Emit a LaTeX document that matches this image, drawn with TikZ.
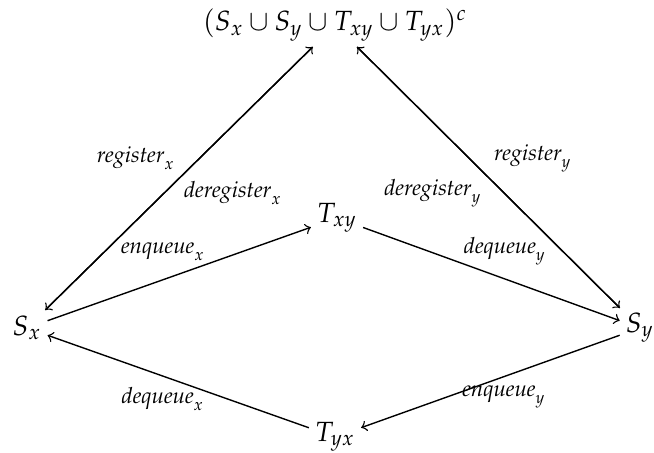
\documentclass[tikz,border=0pt]{standalone}
\usepackage{mathpazo}
\tikzset{
  statenode/.style={inner sep=2pt, font=\normalsize},
  lbl/.style={inner sep=0pt, font=\footnotesize},
  arr/.style={-to, line width=0.5pt}
}
\begin{document}
\begin{tikzpicture}[x=0.36pt,y=-0.36pt]
\useasboundingbox (0,0) rectangle (654,453);
\node[statenode] (top) at (335,25) {$(S_x \cup S_y \cup T_{xy} \cup T_{yx})^c$};
\node[statenode] (Txy) at (337,218) {$T_{xy}$};
\node[statenode] (Sx) at (27,328) {$S_x$};
\node[statenode] (Sy) at (640,328) {$S_y$};
\node[statenode] (Tyx) at (335,437) {$T_{yx}$};
\draw[arr] (top) -- (Sx);
\draw[arr] (Sx) -- (top);
\draw[arr] (top) -- (Sy);
\draw[arr] (Sy) -- (top);
\draw[arr] (Sx) -- (Txy);
\draw[arr] (Txy) -- (Sy);
\draw[arr] (Sy) -- (Tyx);
\draw[arr] (Tyx) -- (Sx);
\node[lbl] (l1) at (136,158) {$\mathit{register}_x$};
\node[lbl] (l2) at (233,193) {$\mathit{deregister}_x$};
\node[lbl] (l3) at (163,252) {$\mathit{enqueue}_x$};
\node[lbl] (l4) at (533,158) {$\mathit{register}_y$};
\node[lbl] (l5) at (433,193) {$\mathit{deregister}_y$};
\node[lbl] (l6) at (505,251) {$\mathit{dequeue}_y$};
\node[lbl] (l7) at (163,399) {$\mathit{dequeue}_x$};
\node[lbl] (l8) at (504,397) {$\mathit{enqueue}_y$};
\end{tikzpicture}
\end{document}
